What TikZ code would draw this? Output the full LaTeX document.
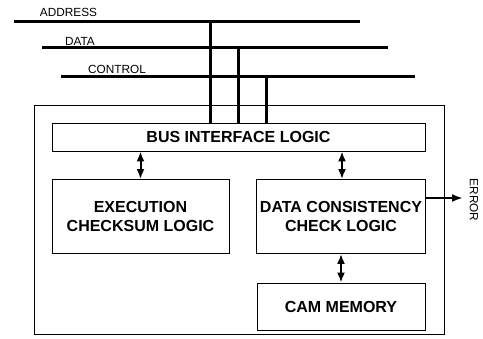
\documentclass[tikz,border=0pt]{standalone}
\usepackage{fontspec}
\setmainfont{Liberation Sans}
\usetikzlibrary{calc, arrows, arrows.meta, positioning}
\tikzstyle{link_arrow}=[line width=2pt,<->,> = {Latex[length=10pt,width=8pt]}]

\begin{document}
\begin{tikzpicture}[x=1pt,y=-1pt]
            \tikzset{block/.style = {shape=rectangle, draw, line width=0.8pt, align=center, font=\fontsize{16}{19}\selectfont\bfseries}}
			\tikzset{busline/.style = {line width=3pt}}
			\tikzset{buslabel/.style = {font=\fontsize{11.8}{13}\selectfont, inner sep=0pt}}
			\tikzset{link/.style = {link_arrow}}
			\useasboundingbox (0,0) rectangle (483,339);

			% blocks
			\node[draw, line width=0.8pt, minimum width=410pt, minimum height=229pt] (outer) at (239,219.5) {};
			\node[block, minimum width=373pt, minimum height=28pt] (bus) at (238.5,137) {BUS INTERFACE LOGIC};
			\node[block, minimum width=177pt, minimum height=74pt] (exec) at (140.5,216.5) {EXECUTION\\CHECKSUM LOGIC};
			\node[block, minimum width=168pt, minimum height=74pt] (dcc) at (341,216.5) {DATA CONSISTENCY\\CHECK LOGIC};
			\node[block, minimum width=168pt, minimum height=47pt] (cam) at (341,306.5) {CAM MEMORY};

			% buses
			\coordinate (addrW) at (14,22);
			\coordinate (addrE) at (360,22);
			\coordinate (dataW) at (42,48);
			\coordinate (dataE) at (388,48);
			\coordinate (ctrlW) at (61,77);
			\coordinate (ctrlE) at (415,77);
			\coordinate (addrT) at (210,22);
			\coordinate (dataT) at (238,48);
			\coordinate (ctrlT) at (266,77);
			\node[buslabel] (addrL) at (68.5,12) {ADDRESS};
			\node[buslabel] (dataL) at (80,41) {DATA};
			\node[buslabel] (ctrlL) at (117,69) {CONTROL};
			\draw[busline] (addrT) -- (addrT |- bus.north);
			\draw[busline] (dataT) -- (dataT |- bus.north);
			\draw[busline] (ctrlT) -- (ctrlT |- bus.north);
			\draw[busline] (addrW) -- (addrE);
			\draw[busline] (dataW) -- (dataE);
			\draw[busline] (ctrlW) -- (ctrlE);

			%edges
			\coordinate (dccTap) at (342,0);
			\draw[link] (bus.south -| exec) -- (exec.north);
			\draw[link] (bus.south -| dccTap) -- (dccTap |- dcc.north);
			\draw[link] (dcc.south) -- (cam.north);
			\coordinate (err) at (463,198);
			\node[buslabel, rotate=-90] (errL) at (474,200) {ERROR};
			\draw[line width=2pt, -{Latex[length=11pt,width=8pt]}] (dcc.east |- err) -- (err);
\end{tikzpicture}
\end{document}
